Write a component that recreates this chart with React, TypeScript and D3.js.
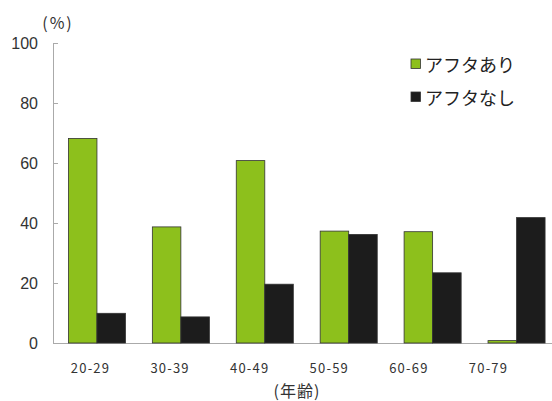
import React, { useEffect, useRef } from "react";
import * as d3 from "d3";

const categories = ["20-29", "30-39", "40-49", "50-59", "60-69", "70-79"];
const seriesNames = ["アフタあり", "アフタなし"];
const withAphtha = [68.2, 38.7, 60.8, 37.3, 37.1, 0.8];
const withoutAphtha = [9.9, 8.7, 19.6, 36.2, 23.4, 41.8];
const yTicks = [0, 20, 40, 60, 80, 100];
const colors = ["#8dc01c", "#1c1c1c"];

export default function App() {
  const ref = useRef<SVGSVGElement>(null);
  useEffect(() => {
    const svg = d3.select(ref.current);
    svg.selectAll("*").remove();
    const W = 552;
    const x = d3.scaleBand<string>().domain(categories).range([55, 558.5]).paddingInner(0.32).paddingOuter(0.16);
    const xLabel = d3.scalePoint<string>().domain(categories).range([90.5, 488.5]);
    const y = d3.scaleLinear().domain([0, 100]).range([343, 43]);
    const font = "'Noto Sans CJK JP', 'Noto Sans', sans-serif";

    svg.append("line").attr("x1", 53.5).attr("x2", 53.5).attr("y1", y(100)).attr("y2", y(0)).attr("stroke", "#aaa").attr("stroke-width", 1);
    svg.append("line").attr("x1", 53).attr("x2", W).attr("y1", y(0) + 0.5).attr("y2", y(0) + 0.5).attr("stroke", "#aaa").attr("stroke-width", 1.2);
    yTicks.forEach((t) => {
      if (t > 0)
        svg.append("line").attr("x1", 53.5).attr("x2", 58).attr("y1", y(t) + 0.5).attr("y2", y(t) + 0.5).attr("stroke", "#aaa");
      svg.append("text").attr("x", 38).attr("y", y(t)).attr("text-anchor", "end").attr("dominant-baseline", "central")
        .attr("font-family", "Arial, 'Liberation Sans', sans-serif").attr("font-size", 16).attr("fill", "#333").text(String(t));
    });
    svg.append("text").attr("x", 58).attr("y", 22).attr("text-anchor", "middle").attr("dominant-baseline", "central")
      .attr("font-family", font).attr("font-size", 16).attr("letter-spacing", 2).attr("fill", "#333").text("(%)");

    const sub = d3.scaleBand<number>().domain([0, 1]).range([0, x.bandwidth()]);
    const series = [withAphtha, withoutAphtha];
    series.forEach((vals, si) => {
      svg.append("g").selectAll("rect").data(vals).enter().append("rect")
        .attr("x", (_, i) => (x(categories[i]) as number) + (sub(si) as number))
        .attr("y", (d) => y(d))
        .attr("width", sub.bandwidth())
        .attr("height", (d) => y(0) - y(d))
        .attr("fill", colors[si])
        .attr("stroke", "#333").attr("stroke-width", 0.8);
    });

    categories.forEach((c) => {
      svg.append("text").attr("x", xLabel(c) as number).attr("y", 367).attr("text-anchor", "middle")
        .attr("dominant-baseline", "central").attr("font-family", font).attr("font-size", 13).attr("letter-spacing", 1.2)
        .attr("fill", "#333").text(c);
    });
    svg.append("text").attr("x", 297).attr("y", 390).attr("text-anchor", "middle").attr("dominant-baseline", "central")
      .attr("font-family", font).attr("font-size", 16).attr("letter-spacing", 1).attr("fill", "#333").text("(年齢)");

    seriesNames.forEach((n, i) => {
      const ly = 64 + i * 33;
      svg.append("rect").attr("x", 411).attr("y", ly - 5).attr("width", 9.5).attr("height", 9.5)
        .attr("fill", colors[i]).attr("stroke", "#333").attr("stroke-width", 0.8);
      svg.append("text").attr("x", 425).attr("y", ly).attr("dominant-baseline", "central")
        .attr("font-family", font).attr("font-size", 18).attr("fill", "#222").text(n);
    });
  }, []);
  return <svg ref={ref} width={552} height={401} style={{ position: "absolute", left: 0, top: 0, background: "#fff" }} />;
}
